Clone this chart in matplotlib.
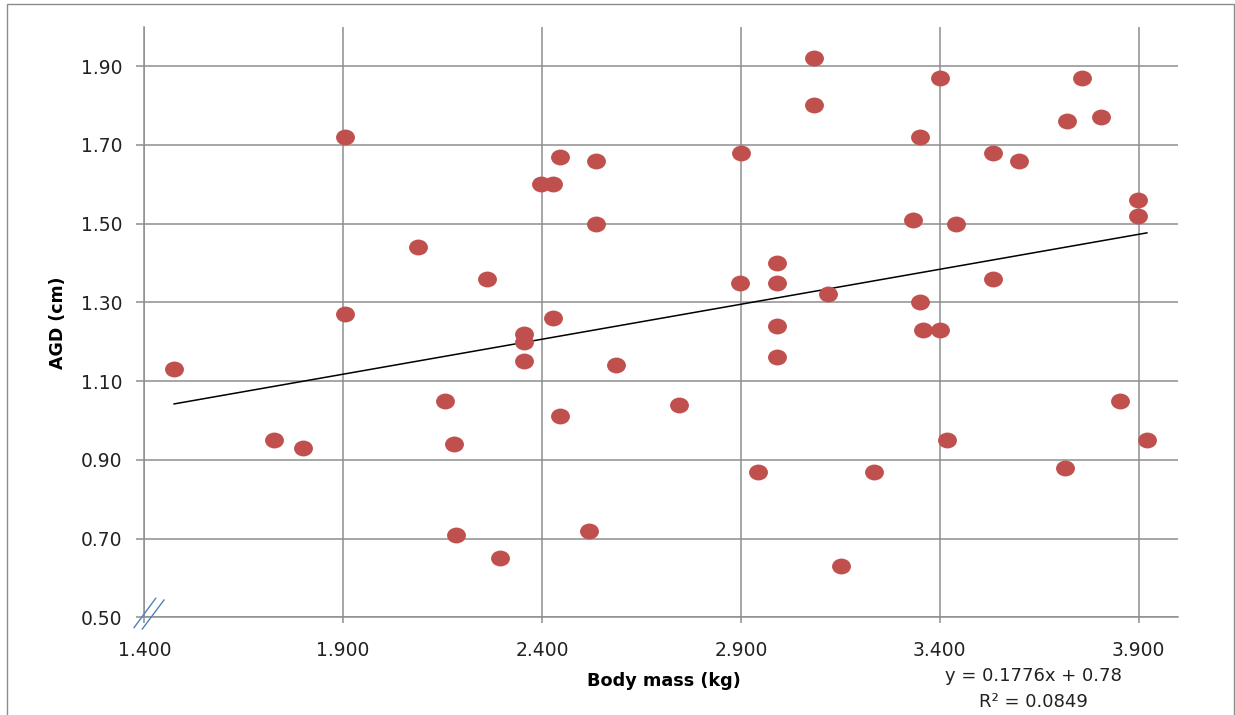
import numpy as np
import matplotlib
matplotlib.use("Agg")
from matplotlib import pyplot as plt
from matplotlib.path import Path
from matplotlib.patches import Rectangle
from matplotlib.lines import Line2D
from matplotlib.transforms import Affine2D

# body mass (kg) and AGD (cm)
body_mass = [1.475, 1.725, 1.800, 1.905, 1.905, 2.088, 2.155, 2.179, 2.183, 2.261,
             2.294, 2.354, 2.354, 2.354, 2.398, 2.428, 2.427, 2.446, 2.446, 2.518,
             2.537, 2.537, 2.586, 2.744, 2.897, 2.901, 2.944, 2.992, 2.992, 2.992,
             2.992, 3.083, 3.083, 3.120, 3.151, 3.236, 3.333, 3.351, 3.351, 3.357,
             3.400, 3.400, 3.419, 3.442, 3.533, 3.533, 3.600, 3.716, 3.720, 3.759,
             3.806, 3.854, 3.898, 3.898, 3.921]
agd = [1.13, 0.95, 0.93, 1.72, 1.27, 1.44, 1.05, 0.94, 0.71, 1.36,
       0.65, 1.22, 1.20, 1.15, 1.60, 1.60, 1.26, 1.67, 1.01, 0.72,
       1.66, 1.50, 1.14, 1.04, 1.35, 1.68, 0.87, 1.40, 1.35, 1.24,
       1.16, 1.92, 1.80, 1.32, 0.63, 0.87, 1.51, 1.72, 1.30, 1.23,
       1.87, 1.23, 0.95, 1.50, 1.68, 1.36, 1.66, 0.88, 1.76, 1.87,
       1.77, 1.05, 1.56, 1.52, 0.95]

# trendline as printed on the chart
slope = 0.1776
intercept = 0.78
r_squared = 0.0849

x_ticks = [1.4, 1.9, 2.4, 2.9, 3.4, 3.9]
y_ticks = [0.5, 0.7, 0.9, 1.1, 1.3, 1.5, 1.7, 1.9]

GRID = "#8e8e8e"
RED = "#C0504D"

plt.rcParams["font.family"] = ["DejaVu Sans"]


def main():
    W, H = 1235, 715
    fig = plt.figure(figsize=(W / 100, H / 100), dpi=100)
    ax = fig.add_axes([144.3 / W, 1 - 617.3 / H, (1178.3 - 144.3) / W, (617.3 - 26.7) / H])

    # slightly flattened dot like the original
    ellipse = Path.unit_circle().transformed(Affine2D().scale(1.0, 0.84))
    ax.scatter(body_mass, agd, s=185, marker=ellipse, color=RED, linewidths=0, zorder=3)

    xs = np.array([min(body_mass), max(body_mass)])
    ax.plot(xs, slope * xs + intercept, color="black", lw=1.1, zorder=2)

    ax.set_xlim(1.4, 4.0)
    ax.set_ylim(0.5, 2.0)
    ax.set_xticks(x_ticks)
    ax.set_yticks(y_ticks)
    ax.set_xticklabels([f"{v:.3f}" for v in x_ticks])
    ax.set_yticklabels([f"{v:.2f}" for v in y_ticks])
    ax.grid(True, color=GRID, lw=1.1, zorder=0)
    ax.set_axisbelow(True)
    for side in ["top", "right"]:
        ax.spines[side].set_visible(False)
    for side in ["left", "bottom"]:
        ax.spines[side].set_color(GRID)
        ax.spines[side].set_linewidth(1.1)
    ax.tick_params(axis="x", length=4.5, width=1.1, color=GRID, pad=12.5,
                   labelsize=13.5, labelcolor="#222222")
    ax.tick_params(axis="y", length=5.5, width=1.1, color=GRID, pad=10.5,
                   labelsize=13.5, labelcolor="#222222")

    fig.text(663.7 / W, 1 - 681 / H, "Body mass (kg)", ha="center", va="center",
             fontsize=12.7, fontweight="bold")
    fig.text(58 / W, 1 - 323 / H, "AGD (cm)", ha="center", va="center",
             rotation=90, fontsize=12.5, fontweight="bold")
    fig.text(1033 / W, 1 - 676 / H, f"y = {slope}x + {intercept}", ha="center",
             va="center", fontsize=13, color="#222222")
    fig.text(1033 / W, 1 - 701.7 / H, f"R² = {r_squared}", ha="center",
             va="center", fontsize=13, color="#222222")

    # axis break marks at the origin
    for (x0, y0, x1, y1) in [(134, 627.7, 155.7, 598.3), (142.3, 629, 164, 600)]:
        fig.add_artist(Line2D([x0 / W, x1 / W], [1 - y0 / H, 1 - y1 / H],
                              transform=fig.transFigure, color="#4F81BD", lw=1.0))

    # chart frame
    fig.add_artist(Rectangle((7 / W, -0.01), (1234.3 - 7) / W, 1.01 - 3.7 / H,
                             transform=fig.transFigure, fill=False,
                             edgecolor="#8c8c8c", lw=1.0))

    fig.savefig("out.png", dpi=100)


if __name__ == "__main__":
    main()
